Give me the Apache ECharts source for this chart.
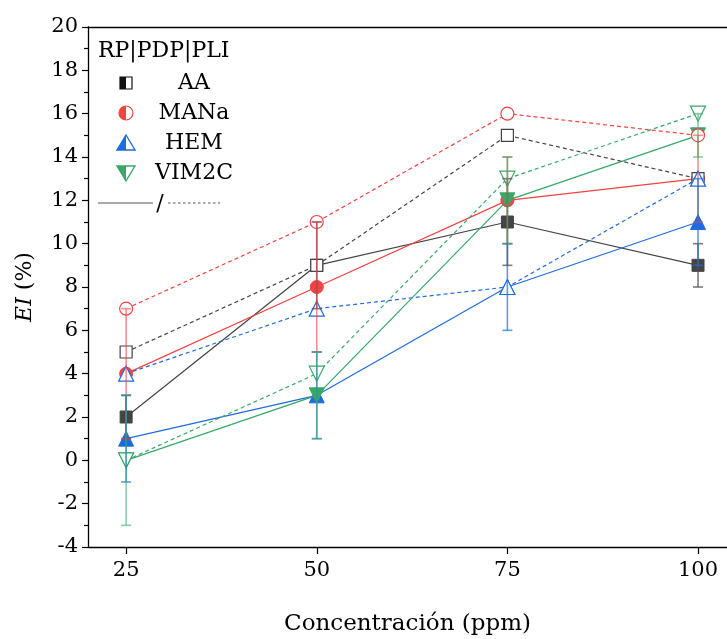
<!DOCTYPE html>
<html>
<head>
<meta charset="utf-8">
<script src="https://cdn.jsdelivr.net/npm/echarts@6/dist/echarts.min.js"></script>
<style>html,body{margin:0;padding:0;background:#fff}#c{width:727px;height:639px}</style>
</head>
<body>
<div id="c"></div>
<script>
const concentrations = [25, 50, 75, 100];
const xTicks = [25, 50, 75, 100];
const groups = ['AA', 'MANa', 'HEM', 'VIM2C'];
// solid lines, filled markers (with error bars)
const AA_solid = [2, 9, 11, 9];
const MANa_solid = [4, 8, 12, 13];
const HEM_solid = [1, 3, 8, 11];
const VIM2C_solid = [0, 3, 12, 15];
const AA_err = [1, 2, 2, 1];
const MANa_err = [3, 3, 2, 2];
const HEM_err = [2, 2, 2, 2];
const VIM2C_err = [3, 2, 2, 1];
// dashed lines, open markers
const AA_dash = [5, 9, 15, 13];
const MANa_dash = [7, 11, 16, 15];
const HEM_dash = [4, 7, 8, 13];
const VIM2C_dash = [0, 4, 13, 16];

const FONT = 'DejaVu Serif';
const colors = { AA: '#444444', MANa: '#F04343', HEM: '#1F6BDD', VIM2C: '#38A868' };
const errColors = { AA: 'rgba(80,80,80,0.75)', MANa: 'rgba(235,70,70,0.6)', HEM: 'rgba(30,110,225,0.7)', VIM2C: 'rgba(60,170,110,0.6)' };
const symbols = { AA: ['rect', 0, 12], MANa: ['circle', 0, 13], HEM: ['triangle', 0, 15], VIM2C: ['triangle', 180, 15] };

const solidData = { AA: AA_solid, MANa: MANa_solid, HEM: HEM_solid, VIM2C: VIM2C_solid };
const errData = { AA: AA_err, MANa: MANa_err, HEM: HEM_err, VIM2C: VIM2C_err };
const dashData = { AA: AA_dash, MANa: MANa_dash, HEM: HEM_dash, VIM2C: VIM2C_dash };

const series = [];
groups.forEach((g, gi) => {
  const [sym, rot, size] = symbols[g];
  series.push({
    type: 'line', name: g + ' solid', z: 2 + gi,
    data: concentrations.map((x, i) => [x, solidData[g][i]]),
    symbol: sym, symbolRotate: rot, symbolSize: size,
    lineStyle: { color: colors[g], width: 1.2 },
    itemStyle: { color: colors[g], borderColor: colors[g], borderWidth: 1 },
    emphasis: { disabled: true }
  });
});
groups.forEach((g, gi) => {
  const [sym, rot, size] = symbols[g];
  series.push({
    type: 'line', name: g + ' dash', z: 10 + gi,
    data: concentrations.map((x, i) => [x, dashData[g][i]]),
    symbol: sym, symbolRotate: rot, symbolSize: size,
    lineStyle: { color: colors[g], width: 1.2, type: [4, 3] },
    itemStyle: { color: '#fff', borderColor: colors[g], borderWidth: 1.2 },
    emphasis: { disabled: true }
  });
});
groups.forEach((g) => {
  series.push({
    type: 'custom', name: g + ' err', z: 20,
    data: concentrations.map((x, i) => [x, solidData[g][i] - errData[g][i], solidData[g][i] + errData[g][i]]),
    renderItem: function (params, api) {
      const lo = api.coord([api.value(0), api.value(1)]);
      const hi = api.coord([api.value(0), api.value(2)]);
      const w = 5;
      const st = { stroke: errColors[g], lineWidth: 1.6 };
      return { type: 'group', children: [
        { type: 'line', shape: { x1: lo[0], y1: lo[1], x2: hi[0], y2: hi[1] }, style: st },
        { type: 'line', shape: { x1: lo[0] - w, y1: lo[1], x2: lo[0] + w, y2: lo[1] }, style: st },
        { type: 'line', shape: { x1: hi[0] - w, y1: hi[1], x2: hi[0] + w, y2: hi[1] }, style: st }
      ]};
    }
  });
});

// legend graphics
const lx = 126, ly0 = 83, dy = 30, s = 6;
const graphics = [
  { type: 'text', left: 98, top: 40, style: { text: 'RP|PDP|PLI', font: '22px ' + FONT, fill: '#000' } }
];
groups.forEach((g, i) => {
  const cy = ly0 + i * dy;
  const c = colors[g];
  let shapes = [];
  if (g === 'AA') {
    shapes = [
      { type: 'rect', shape: { x: lx - s, y: cy - s, width: s, height: 2 * s }, style: { fill: '#111' } },
      { type: 'rect', shape: { x: lx - s, y: cy - s, width: 2 * s, height: 2 * s }, style: { fill: null, stroke: '#111', lineWidth: 1.2 } }
    ];
  } else if (g === 'MANa') {
    shapes = [
      { type: 'sector', shape: { cx: lx, cy: cy, r: s + 1, r0: 0, startAngle: Math.PI / 2, endAngle: Math.PI * 1.5 }, style: { fill: c } },
      { type: 'circle', shape: { cx: lx, cy: cy, r: s + 1 }, style: { fill: null, stroke: c, lineWidth: 1.2 } }
    ];
  } else if (g === 'HEM') {
    const t = cy - 8, b = cy + 7;
    shapes = [
      { type: 'polygon', shape: { points: [[lx, t], [lx - 9, b], [lx, b]] }, style: { fill: c } },
      { type: 'polygon', shape: { points: [[lx, t], [lx - 9, b], [lx + 9, b]] }, style: { fill: null, stroke: c, lineWidth: 1.4 } }
    ];
  } else {
    const t = cy - 7, b = cy + 8;
    shapes = [
      { type: 'polygon', shape: { points: [[lx, b], [lx - 9, t], [lx, t]] }, style: { fill: c } },
      { type: 'polygon', shape: { points: [[lx, b], [lx - 9, t], [lx + 9, t]] }, style: { fill: null, stroke: c, lineWidth: 1.4 } }
    ];
  }
  graphics.push(...shapes);
  graphics.push({ type: 'text', x: 194, y: cy, style: { text: g, font: '22px ' + FONT, fill: '#000', align: 'center', verticalAlign: 'middle' } });
});
graphics.push({ type: 'line', shape: { x1: 98, y1: 203, x2: 153, y2: 203 }, style: { stroke: '#555', lineWidth: 1.2 } });
graphics.push({ type: 'text', x: 160, y: 204, style: { text: '/', font: '22px ' + FONT, fill: '#000', align: 'center', verticalAlign: 'middle' } });
graphics.push({ type: 'line', shape: { x1: 168, y1: 203, x2: 220, y2: 203 }, style: { stroke: '#555', lineWidth: 1.2, lineDash: [2.5, 2.5] } });

const chart = echarts.init(document.getElementById('c'), null, { renderer: 'canvas' });
chart.setOption({
  animation: false,
  backgroundColor: '#fff',
  grid: { left: 88, right: 0, top: 27, bottom: 92, outerBoundsMode: 'none', containLabel: false },
  xAxis: [{
    type: 'value', min: 20, max: 103.8,
    name: 'Concentración (ppm)', nameLocation: 'middle', nameGap: 66,
    nameTextStyle: { fontFamily: FONT, fontSize: 23, color: '#000' },
    axisLine: { show: true, onZero: false, lineStyle: { color: '#000', width: 1.3 } },
    axisTick: { show: true, customValues: xTicks, length: 7, lineStyle: { color: '#000', width: 1.2 } },
    axisLabel: { customValues: xTicks, fontFamily: FONT, fontSize: 21, color: '#000', margin: 13 },
    splitLine: { show: false }
  }, {
    type: 'value', min: 20, max: 103.8, position: 'top',
    axisLine: { show: true, onZero: false, lineStyle: { color: '#000', width: 1.3 } },
    axisTick: { show: false }, axisLabel: { show: false }, splitLine: { show: false }
  }],
  yAxis: {
    type: 'value', min: -4, max: 20, interval: 2,
    name: '{i|EI} (%)', nameLocation: 'middle', nameGap: 52,
    nameTextStyle: { fontFamily: FONT, fontSize: 22, color: '#000', rich: { i: { fontFamily: FONT, fontStyle: 'italic', fontSize: 22, color: '#000' } } },
    axisLine: { show: true, onZero: false, lineStyle: { color: '#000', width: 1.3 } },
    axisTick: { show: true, length: 6, lineStyle: { color: '#000', width: 1.2 } },
    minorTick: { show: true, splitNumber: 2, length: 4, lineStyle: { color: '#000', width: 1.2 } },
    axisLabel: { fontFamily: FONT, fontSize: 21, color: '#000', margin: 10 },
    splitLine: { show: false }
  },
  graphic: graphics,
  series: series
});
</script>
</body>
</html>
